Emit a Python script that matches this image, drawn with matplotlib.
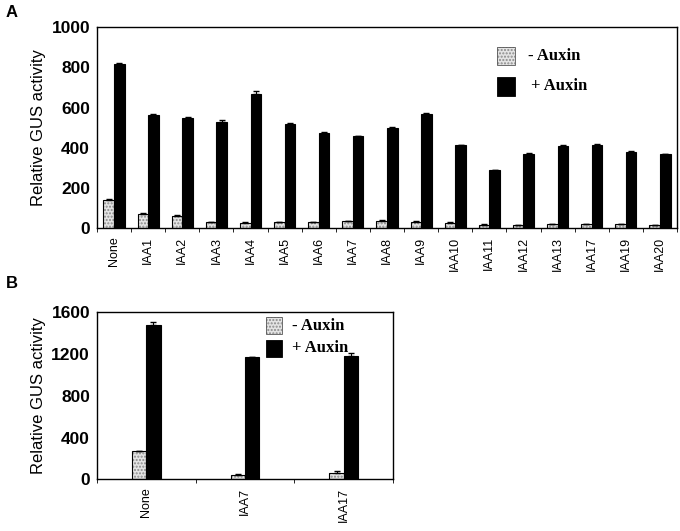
import numpy as np
import matplotlib
matplotlib.use('Agg')
import matplotlib.pyplot as plt
from matplotlib.ticker import FixedLocator

# panel A data
cats_a = ['None', 'IAA1', 'IAA2', 'IAA3', 'IAA4', 'IAA5', 'IAA6', 'IAA7', 'IAA8',
          'IAA9', 'IAA10', 'IAA11', 'IAA12', 'IAA13', 'IAA17', 'IAA19', 'IAA20']
minus_a = [140, 73, 60, 30, 28, 30, 30, 34, 36, 33, 28, 18, 16, 20, 20, 20, 15]
minus_a_err = [4, 4, 6, 3, 2, 3, 3, 3, 3, 3, 3, 2, 2, 2, 4, 2, 2]
plus_a = [815, 565, 548, 528, 668, 520, 476, 458, 500, 566, 413, 288, 370, 408, 413, 380, 368]
plus_a_err = [8, 4, 4, 8, 12, 3, 3, 3, 4, 6, 3, 3, 3, 5, 4, 3, 3]

# panel B data
cats_b = ['None', 'IAA7', 'IAA17']
minus_b = [268, 45, 60]
minus_b_err = [4, 4, 18]
plus_b = [1480, 1168, 1180]
plus_b_err = [25, 8, 30]

plt.rcParams['font.family'] = ['Liberation Sans', 'DejaVu Sans']
fig = plt.figure(figsize=(6.8, 5.31), dpi=100)

def draw(ax, cats, minus, minus_err, plus, plus_err, w, ymax, yticks):
    x = np.arange(len(cats))
    # dotted grey bars
    ax.bar(x - w/2, minus, w, color='#e4e4e4', hatch='.....', edgecolor='#8a8a8a', lw=0, zorder=2)
    ax.bar(x - w/2, minus, w, fill=False, edgecolor='black', lw=0.8, zorder=3)
    ax.errorbar(x - w/2, minus, yerr=[np.zeros(len(cats)), minus_err], fmt='none',
                ecolor='black', elinewidth=0.8, capsize=2, zorder=4)
    ax.bar(x + w/2, plus, w, color='black', edgecolor='black', lw=0.8, zorder=3)
    ax.errorbar(x + w/2, plus, yerr=[np.zeros(len(cats)), plus_err], fmt='none',
                ecolor='black', elinewidth=0.8, capsize=2.5, zorder=4)
    ax.set_xlim(-0.5, len(cats) - 0.5)
    ax.set_ylim(0, ymax)
    ax.set_yticks(yticks)
    ax.set_xticks(x)
    ax.set_xticklabels(cats, rotation=90, fontsize=9)
    ax.xaxis.set_minor_locator(FixedLocator(np.arange(-0.5, len(cats), 1)))
    ax.tick_params(axis='x', which='major', length=0, pad=6)
    ax.tick_params(axis='x', which='minor', length=3, width=0.6, direction='out')
    ax.tick_params(axis='y', length=0, pad=5, labelsize=12.5)
    for t in ax.get_yticklabels():
        t.set_fontweight('bold')
    for s in ax.spines.values():
        s.set_linewidth(1.0)
    ax.set_ylabel('Relative GUS activity', fontsize=12)

def legend_box(ax, x0, y0, dy, bw, bh, tx, tx2):
    ax.add_patch(plt.Rectangle((x0, y0), bw, bh, transform=ax.transAxes, facecolor='#e4e4e4',
                               hatch='.....', edgecolor='#8a8a8a', lw=0, clip_on=False))
    ax.add_patch(plt.Rectangle((x0, y0), bw, bh, transform=ax.transAxes, fill=False,
                               edgecolor='#555555', lw=0.6, clip_on=False))
    ax.add_patch(plt.Rectangle((x0, y0 - dy), bw, bh, transform=ax.transAxes, facecolor='black',
                               edgecolor='black', lw=0.6, clip_on=False))
    ax.text(tx, y0 + bh/2, '- Auxin', transform=ax.transAxes, va='center', ha='left',
            fontsize=12, fontweight='bold', family='Liberation Serif')
    ax.text(tx2, y0 - dy + bh/2, '+ Auxin', transform=ax.transAxes, va='center', ha='left',
            fontsize=12, fontweight='bold', family='Liberation Serif')

ax1 = fig.add_axes([0.1426, 0.570, 0.853, 0.379])
draw(ax1, cats_a, minus_a, minus_a_err, plus_a, plus_a_err, 0.31, 1000, [0, 200, 400, 600, 800, 1000])
legend_box(ax1, 0.69, 0.81, 0.15, 0.03, 0.09, 0.743, 0.748)

ax2 = fig.add_axes([0.1426, 0.0974, 0.4356, 0.3145])
draw(ax2, cats_b, minus_b, minus_b_err, plus_b, plus_b_err, 0.145, 1600, [0, 400, 800, 1200, 1600])
legend_box(ax2, 0.57, 0.87, 0.135, 0.055, 0.10, 0.66, 0.66)

fig.text(0.008, 0.977, 'A', fontsize=12, fontweight='bold', va='center')
fig.text(0.008, 0.467, 'B', fontsize=12, fontweight='bold', va='center')

fig.savefig('out.png', dpi=100)
